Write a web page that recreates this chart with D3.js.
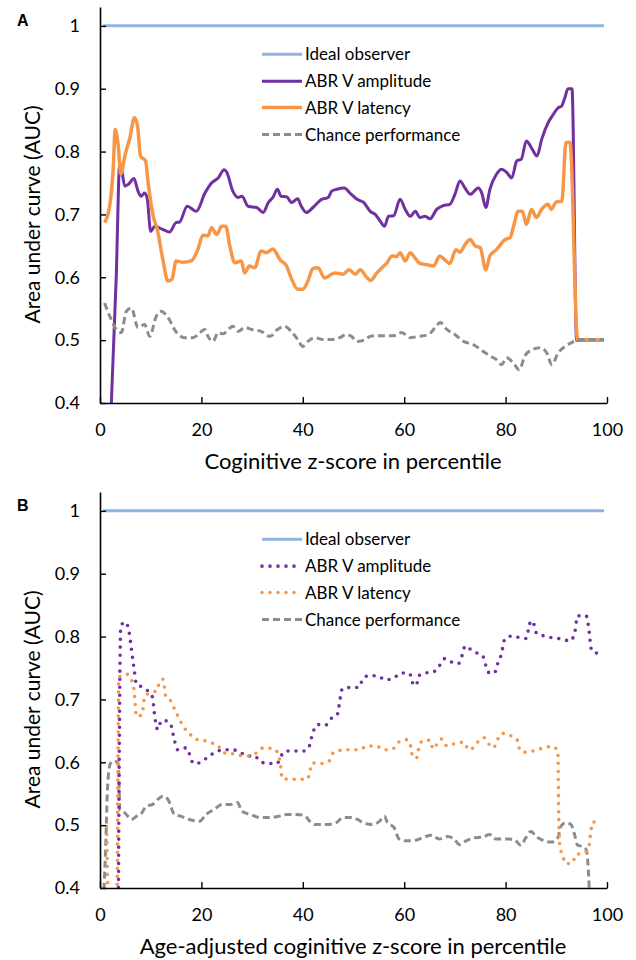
<!doctype html>
<html lang="en">
<head>
<meta charset="utf-8">
<script src="https://d3js.org/d3.v7.min.js"></script>
<title>AUC by cognitive percentile</title>
<style>
  body { margin: 0; background: #fff; }
  svg text { font-family: Lato, "Open Sans", sans-serif; fill: #000; }
  .panel-label { font-family: "Liberation Sans", Arial, sans-serif; font-weight: bold; }
</style>
</head>
<body>
<div id="chart"></div>
<script>
// ---- data (percentile, AUC) ----
const xTicks = [0, 20, 40, 60, 80, 100];
const yTicks = [0.4, 0.5, 0.6, 0.7, 0.8, 0.9, 1];
const legendNames = ['Ideal observer', 'ABR V amplitude', 'ABR V latency', 'Chance performance'];

const idealLine = [[0.6, 1], [99.4, 1]];

// panel A
const ampA = [[2, 0.35], [3.2, 0.6], [3.9, 0.782], [4.3, 0.77], [4.9, 0.745], [5.6, 0.748], [6.7, 0.757],
  [7.5, 0.737], [8.1, 0.729], [8.8, 0.734], [9.3, 0.726], [10, 0.673], [10.8, 0.681], [12.4, 0.676],
  [13.7, 0.672], [15, 0.687], [15.7, 0.688], [17.2, 0.713], [19, 0.705], [20.7, 0.734], [22, 0.75],
  [23.3, 0.758], [24.5, 0.771], [25, 0.767], [26.2, 0.737], [27.2, 0.727], [28, 0.729], [29.2, 0.713],
  [30.9, 0.711], [32.2, 0.703], [33.2, 0.719], [34.1, 0.727], [35, 0.74], [35.7, 0.729], [36.8, 0.728],
  [37.8, 0.719], [39, 0.725], [39.7, 0.713], [40.7, 0.703], [42, 0.711], [43.7, 0.724], [45, 0.727],
  [45.7, 0.737], [46.7, 0.74], [48.2, 0.742], [49.3, 0.734], [50.7, 0.724], [52, 0.719], [53.3, 0.705],
  [54.3, 0.7], [55.3, 0.689], [56.1, 0.681], [56.9, 0.697], [57.9, 0.698], [59.2, 0.724], [60.2, 0.708],
  [61.2, 0.697], [62.2, 0.705], [63.1, 0.695], [64.1, 0.697], [65.1, 0.693], [66.4, 0.708], [67.7, 0.714],
  [69, 0.716], [70, 0.732], [71, 0.753], [72, 0.742], [73, 0.732], [74.6, 0.742], [75.3, 0.734],
  [76.1, 0.711], [76.9, 0.74], [78.2, 0.764], [79.2, 0.772], [80.2, 0.767], [81.2, 0.758], [82.2, 0.785],
  [83.1, 0.788], [84.1, 0.817], [85.1, 0.806], [86.2, 0.793], [87.1, 0.819], [88.4, 0.846], [89.4, 0.859],
  [90.4, 0.87], [91, 0.872], [91.7, 0.886], [92.3, 0.9], [93.1, 0.9], [94, 0.5], [99.4, 0.5]];

const latA = [[0.9, 0.687], [1.9, 0.713], [2.6, 0.772], [3, 0.835], [3.6, 0.809], [4.1, 0.764], [4.9, 0.793],
  [5.9, 0.822], [6.8, 0.854], [7.4, 0.841], [8, 0.793], [9, 0.785], [9.5, 0.75], [10.5, 0.697],
  [11.3, 0.676], [12.4, 0.628], [13.4, 0.594], [14.2, 0.597], [15, 0.626], [16.4, 0.624], [18, 0.626],
  [19.3, 0.644], [20.3, 0.667], [21.3, 0.666], [22, 0.679], [23, 0.668], [24, 0.681], [24.8, 0.681],
  [25.6, 0.65], [26.6, 0.623], [27.9, 0.626], [28.5, 0.607], [29.5, 0.618], [30.5, 0.615], [31.8, 0.642],
  [32.8, 0.639], [34.1, 0.645], [35.5, 0.628], [36.8, 0.618], [37.8, 0.597], [39, 0.581], [40, 0.581],
  [41, 0.594], [42, 0.614], [43, 0.615], [44.3, 0.599], [46.3, 0.607], [48, 0.605], [49.1, 0.612],
  [50.4, 0.605], [51.3, 0.612], [52.7, 0.599], [53.4, 0.595], [54.6, 0.607], [55.6, 0.615], [56.6, 0.623],
  [57.6, 0.634], [58.5, 0.633], [59.2, 0.639], [60.2, 0.626], [61.2, 0.639], [62.2, 0.63], [63.1, 0.622],
  [64.5, 0.62], [65.8, 0.618], [67, 0.634], [68, 0.628], [69, 0.622], [70.2, 0.644], [71, 0.64],
  [72, 0.652], [73, 0.66], [74, 0.65], [75, 0.647], [76.1, 0.612], [76.9, 0.634], [78.2, 0.644],
  [79.9, 0.66], [80.9, 0.663], [81.5, 0.679], [82.5, 0.705], [83.3, 0.705], [84.1, 0.684], [85.1, 0.708],
  [86.1, 0.695], [87.1, 0.708], [88.4, 0.716], [89, 0.708], [90, 0.72], [91.1, 0.721], [91.9, 0.814],
  [92.7, 0.815], [94.2, 0.501], [99.4, 0.5]];

const chanceA = [[0.9, 0.559], [2.2, 0.533], [3.2, 0.517], [4.2, 0.512], [5.2, 0.546], [6.2, 0.551],
  [7.5, 0.52], [8.8, 0.525], [9.8, 0.506], [11.1, 0.538], [12.1, 0.546], [13.4, 0.536], [15.1, 0.512],
  [16.7, 0.504], [18.4, 0.504], [19.7, 0.512], [20.7, 0.517], [21.3, 0.506], [22.3, 0.498], [23.3, 0.512],
  [24.3, 0.51], [25.3, 0.517], [26.2, 0.522], [27.2, 0.514], [28.6, 0.52], [29.9, 0.517], [31.8, 0.514],
  [33.5, 0.506], [35, 0.517], [36.4, 0.522], [37.7, 0.514], [39, 0.501], [40, 0.49], [41, 0.498],
  [42.4, 0.504], [44, 0.501], [45.7, 0.501], [47.3, 0.504], [48.6, 0.509], [49.6, 0.506], [50.7, 0.498],
  [52.3, 0.501], [53.3, 0.506], [54.6, 0.507], [56, 0.507], [57.9, 0.507], [59.5, 0.512], [61.2, 0.504],
  [62.8, 0.506], [64.8, 0.509], [66.1, 0.52], [67.1, 0.528], [68.4, 0.517], [70, 0.509], [71.7, 0.498],
  [73.6, 0.493], [75.6, 0.482], [76.9, 0.475], [78.2, 0.469], [79.2, 0.461], [80.2, 0.472], [81.5, 0.464],
  [82.7, 0.453], [83.8, 0.475], [85.3, 0.485], [86.8, 0.488], [88.1, 0.48], [89.1, 0.461], [90.4, 0.48],
  [91.7, 0.49], [93, 0.496], [94.2, 0.501], [99.4, 0.501]];

// panel B
const ampB = [[3.6, 0.35], [4.1, 0.817], [5, 0.823], [5.7, 0.809], [6.2, 0.78], [6.7, 0.75], [7.2, 0.724],
  [8.5, 0.719], [10.4, 0.703], [10.6, 0.687], [11.4, 0.652], [12.1, 0.666], [12.9, 0.666], [13.9, 0.661],
  [14.7, 0.634], [15.3, 0.62], [17, 0.623], [18.5, 0.598], [20, 0.6], [21.3, 0.609], [22.6, 0.615],
  [24.3, 0.62], [25.9, 0.62], [27.5, 0.617], [29, 0.61], [30.5, 0.61], [31.6, 0.601], [33.3, 0.598],
  [34.9, 0.598], [35.7, 0.61], [36.7, 0.618], [38.5, 0.618], [40.2, 0.618], [41.3, 0.626], [41.7, 0.639],
  [42.9, 0.66], [44.5, 0.659], [45.5, 0.669], [46.8, 0.676], [47.4, 0.703], [47.8, 0.717], [49.6, 0.719],
  [51.1, 0.719], [51.8, 0.732], [53.1, 0.738], [54.9, 0.737], [56.3, 0.731], [57.9, 0.734], [59.5, 0.742],
  [61.1, 0.741], [61.6, 0.727], [62.4, 0.722], [62.8, 0.737], [64.1, 0.742], [65.6, 0.743], [66.9, 0.753],
  [68, 0.765], [69.5, 0.759], [70.7, 0.757], [71.5, 0.772], [72, 0.785], [73.2, 0.779], [74.3, 0.774],
  [75.5, 0.769], [76.1, 0.754], [76.8, 0.742], [77.8, 0.742], [78.4, 0.756], [79.1, 0.77], [79.9, 0.797],
  [81.4, 0.801], [82.8, 0.798], [84.1, 0.797], [84.5, 0.811], [85, 0.825], [85.7, 0.817], [86.1, 0.805],
  [87.6, 0.801], [89.3, 0.798], [91.1, 0.796], [92.7, 0.793], [93.6, 0.805], [94.2, 0.833], [95.9, 0.833],
  [96.3, 0.819], [97, 0.777], [98.5, 0.773]];

const latB = [[1.3, 0.498], [1.8, 0.35], [3.3, 0.35], [3.7, 0.735], [4.2, 0.737], [5.3, 0.74], [6.3, 0.729],
  [6.7, 0.716], [7.2, 0.673], [8.3, 0.676], [8.8, 0.705], [10, 0.711], [11.3, 0.714], [11.7, 0.728],
  [12.4, 0.732], [13, 0.704], [14, 0.697], [14.8, 0.683], [16.6, 0.655], [17.6, 0.646], [18.8, 0.637],
  [20.4, 0.635], [22, 0.631], [23.3, 0.626], [24.5, 0.615], [25.9, 0.614], [27.6, 0.611], [29.2, 0.61],
  [30.9, 0.615], [32.2, 0.623], [33.9, 0.622], [35.1, 0.615], [35.7, 0.589], [35.9, 0.574], [37.5, 0.573],
  [39.1, 0.573], [40.9, 0.573], [41.4, 0.586], [41.9, 0.599], [43.7, 0.598], [45.2, 0.602], [46, 0.615],
  [47.4, 0.619], [49.3, 0.62], [51.1, 0.62], [52.8, 0.626], [54.4, 0.626], [56.1, 0.62], [57.7, 0.621],
  [58.9, 0.632], [60.5, 0.636], [61.3, 0.625], [61.6, 0.611], [62.4, 0.606], [62.8, 0.62], [63.6, 0.634],
  [65.1, 0.635], [65.7, 0.621], [66.4, 0.628], [67.4, 0.637], [68.4, 0.626], [70.1, 0.63], [71.8, 0.632],
  [72.7, 0.62], [73.6, 0.623], [74.5, 0.632], [75.8, 0.639], [76.8, 0.628], [77.6, 0.623], [78.4, 0.636],
  [79.4, 0.646], [81.1, 0.642], [82.4, 0.634], [82.8, 0.619], [84.1, 0.616], [85.8, 0.619], [87.5, 0.623],
  [89.1, 0.625], [90.3, 0.619], [90.5, 0.504], [90.7, 0.467], [91.3, 0.451], [91.8, 0.439], [93.1, 0.439],
  [93.9, 0.453], [95.5, 0.456], [96.4, 0.464], [96.8, 0.49], [97.2, 0.505], [98.8, 0.505]];

const chanceB = [[0.7, 0.38], [1.1, 0.461], [1.5, 0.562], [2, 0.597], [2.6, 0.602], [3.5, 0.6], [3.7, 0.583],
  [3.9, 0.525], [4.6, 0.522], [5.5, 0.514], [6.2, 0.509], [7.2, 0.514], [8.2, 0.519], [9.1, 0.53],
  [10.4, 0.533], [11.4, 0.541], [12.4, 0.546], [13.4, 0.541], [14.7, 0.517], [16, 0.514], [17.6, 0.509],
  [19.6, 0.506], [20.9, 0.517], [22.5, 0.525], [24.1, 0.533], [25.8, 0.533], [27.1, 0.536], [28, 0.522],
  [29.7, 0.517], [31.6, 0.512], [33.6, 0.512], [35.2, 0.514], [36.9, 0.517], [38.8, 0.517], [40.4, 0.515],
  [41.4, 0.506], [42.4, 0.501], [44.7, 0.501], [46.6, 0.504], [47.9, 0.512], [49.6, 0.512], [50.8, 0.509],
  [52.1, 0.503], [53.8, 0.501], [55.1, 0.506], [56.1, 0.514], [56.7, 0.504], [58, 0.496], [59, 0.478],
  [60.3, 0.475], [62.3, 0.476], [63.9, 0.481], [65.3, 0.484], [66.9, 0.478], [68.6, 0.482], [69.9, 0.477],
  [70.9, 0.469], [72.2, 0.475], [73.8, 0.48], [75.5, 0.481], [76.8, 0.485], [78.1, 0.478], [80.1, 0.478],
  [81.7, 0.477], [83, 0.468], [84, 0.48], [85, 0.49], [86, 0.482], [87.3, 0.476], [89, 0.473],
  [90.3, 0.48], [90.9, 0.498], [91.9, 0.504], [92.9, 0.501], [93.6, 0.485], [94.2, 0.468], [95.2, 0.466],
  [95.9, 0.461], [96.2, 0.443], [96.6, 0.38]];

const colors = { ideal: '#8eb4e3', amp: '#7030a0', lat: '#f79646', chance: '#8c8c8c' };

const W = 636, H = 960;
const svg = d3.select('#chart').append('svg').attr('width', W).attr('height', H);

function drawPanel(cfg) {
  const x = d3.scaleLinear().domain([0, 100]).range([100, 607]);
  const y = d3.scaleLinear().domain([0.4, 1.03]).range([cfg.bottom, cfg.bottom - 396]);
  const g = svg.append('g');

  g.append('clipPath').attr('id', 'clip' + cfg.label)
    .append('rect').attr('x', 100).attr('y', y(1.03)).attr('width', 510).attr('height', 396);

  const line = d3.line().x(d => x(d[0])).y(d => y(d[1])).curve(d3.curveMonotoneX);
  const plot = g.append('g').attr('clip-path', 'url(#clip' + cfg.label + ')');

  // same order as legendNames
  const series = [
    { data: idealLine, color: colors.ideal, width: 3, dash: null },
    { data: cfg.amp, color: colors.amp, width: cfg.dotted ? 3.6 : 3, dash: cfg.dotted ? '0 8' : null },
    { data: cfg.lat, color: colors.lat, width: cfg.dotted ? 3.6 : 3.5, dash: cfg.dotted ? '0 8' : null },
    { data: cfg.chance, color: colors.chance, width: 3, dash: '7 4' }
  ];
  // chance drawn on top of the flat tail in A, underneath in B
  const order = cfg.dotted ? [0, 3, 1, 2] : [0, 1, 2, 3];
  const isDot = s => s.dash && s.dash.startsWith('0');
  order.forEach(i => {
    const s = series[i];
    plot.append('path')
      .attr('d', line(s.data))
      .attr('fill', 'none')
      .attr('stroke', s.color)
      .attr('stroke-width', s.width)
      .attr('stroke-linejoin', 'round')
      .attr('stroke-linecap', isDot(s) ? 'round' : 'butt')
      .attr('stroke-dasharray', s.dash);
  });

  // axes: ticks point inwards
  const xAxis = d3.axisBottom(x).tickValues(xTicks).tickSizeInner(-6).tickSizeOuter(0).tickPadding(20);
  const yAxis = d3.axisLeft(y).tickValues(yTicks).tickSizeInner(-6).tickSizeOuter(0).tickPadding(20)
    .tickFormat(d => d === 1 ? '1' : d3.format('.1f')(d));

  [g.append('g').attr('transform', `translate(0,${cfg.bottom})`).call(xAxis),
   g.append('g').attr('transform', 'translate(100,0)').call(yAxis)].forEach(a => {
    a.select('.domain').attr('stroke', '#000').attr('stroke-width', 1.6);
    a.selectAll('.tick line').attr('stroke', '#000').attr('stroke-width', 1.4);
    a.selectAll('.tick text').attr('font-size', 18).attr('font-family', 'Lato, sans-serif').attr('fill', '#000');
  });

  g.append('text').attr('x', 353).attr('y', cfg.bottom + 66)
    .attr('text-anchor', 'middle').attr('font-size', 22).text(cfg.xTitle);

  const cy = (y(0.4) + y(1)) / 2;
  g.append('text').attr('transform', `translate(40,${cy}) rotate(-90)`)
    .attr('text-anchor', 'middle').attr('font-size', 21).text('Area under curve (AUC)');

  g.append('text').attr('class', 'panel-label').attr('x', 17).attr('y', y(1))
    .attr('font-size', 16).text(cfg.label);

  // legend
  const leg = g.append('g');
  const rowY = [y(0.955), y(0.912), y(0.870), y(0.827)];
  series.forEach((s, i) => {
    const ry = rowY[i];
    leg.append('line').attr('x1', 262).attr('x2', 302).attr('y1', ry).attr('y2', ry)
      .attr('stroke', s.color).attr('stroke-width', s.width)
      .attr('stroke-linecap', isDot(s) ? 'round' : 'butt')
      .attr('stroke-dasharray', s.dash);
    leg.append('text').attr('x', 305).attr('y', ry).attr('dy', '0.35em')
      .attr('font-size', 17).text(legendNames[i]);
  });
}

drawPanel({ label: 'A', bottom: 403, amp: ampA, lat: latA, chance: chanceA, dotted: false,
  xTitle: 'Coginitive z-score in percentile' });
drawPanel({ label: 'B', bottom: 888, amp: ampB, lat: latB, chance: chanceB, dotted: true,
  xTitle: 'Age-adjusted coginitive z-score in percentile' });
</script>
</body>
</html>
